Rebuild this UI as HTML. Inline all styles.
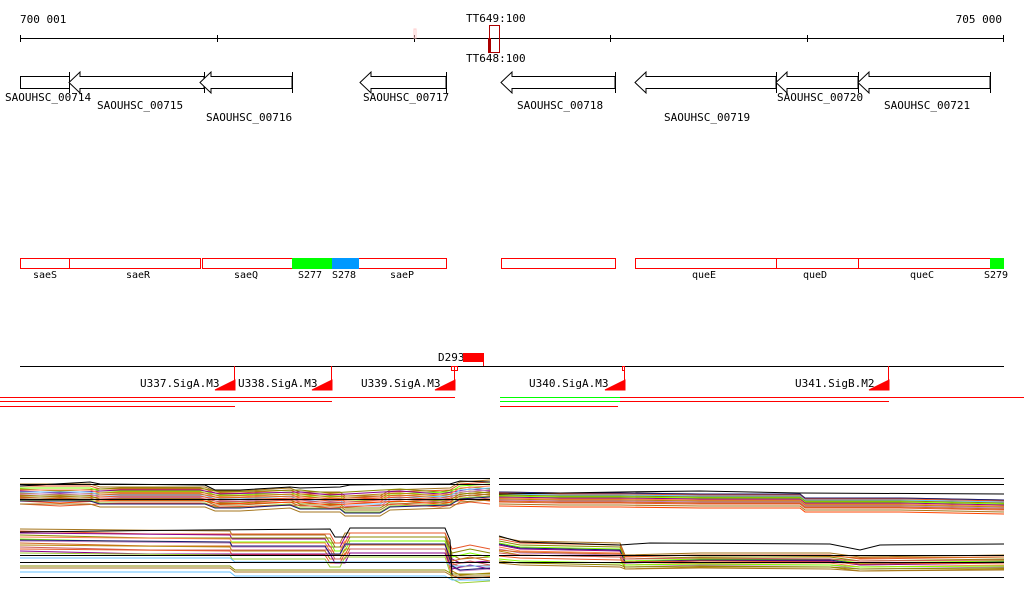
<!DOCTYPE html>
<html><head><meta charset="utf-8"><style>
html,body{margin:0;padding:0;background:#fff;}
svg{display:block;font-family:"DejaVu Sans Mono","Liberation Mono",monospace;font-size:11px;}
</style></head><body>
<svg width="1024" height="611" viewBox="0 0 1024 611" xmlns="http://www.w3.org/2000/svg">
<defs>
<path id="tl" d="M20,0 L90,0 L100,3 L205,3 L215,7 L240,7 L290,4 L300,8 L340,8 L345,12 L380,12 L390,6 L450,4 L460,-2 L490,-4" fill="none"/>
<path id="tl2" d="M20,2 L60,4 L120,1 L200,1 L220,5 L300,3 L330,6 L400,2 L440,5 L470,0 L490,2" fill="none"/>
<path id="bl" d="M20,0 L230,2 L232,6 L325,6 L330,14 L340,14 L345,4 L445,4 L452,26 L460,30 L490,28" fill="none"/>
<path id="bl2" d="M20,0 L150,3 L330,3 L335,12 L345,12 L350,2 L445,2 L452,18 L470,14 L490,18" fill="none"/>
<path id="bl3" d="M20,0 L230,0 L235,4 L400,4 L445,4 L452,8 L490,8" fill="none"/>
<path id="tr" d="M499,0 L560,1 L620,1 L700,2 L800,2 L805,6 L900,6 L1004,8" fill="none"/>
<path id="br" d="M499,0 L520,4 L620,6 L625,18 L700,16 L830,16 L860,20 L1004,18" fill="none"/>
<path id="br2" d="M499,0 L520,2 L620,4 L625,6 L700,5 L830,6 L860,8 L1004,7" fill="none"/>
</defs>
<rect width="1024" height="611" fill="#fff"/>
<g fill="#000">
<text x="20" y="23">700 001</text>
<text x="1002" y="23" text-anchor="end">705 000</text>
<text x="466" y="22">TT649:100</text>
<text x="466" y="62">TT648:100</text>
</g>
<line x1="20" y1="38.5" x2="1004" y2="38.5" stroke="#000"/>
<g stroke="#000"><line x1="20.5" y1="35" x2="20.5" y2="42"/><line x1="217.5" y1="35" x2="217.5" y2="42"/><line x1="414.5" y1="35" x2="414.5" y2="42"/><line x1="610.5" y1="35" x2="610.5" y2="42"/><line x1="807.5" y1="35" x2="807.5" y2="42"/><line x1="1003.5" y1="35" x2="1003.5" y2="42"/></g>
<rect x="414" y="29" width="2" height="9" fill="none" stroke="#fcc"/>
<rect x="489.5" y="25.5" width="10" height="27" fill="none" stroke="#a00"/>
<rect x="488" y="38" width="3" height="15" fill="#a00"/>
<g fill="#fff" stroke="#000">
<rect x="20.5" y="76.5" width="49" height="12"/>
<line x1="69.5" y1="72" x2="69.5" y2="93"/>
<polygon points="69,82.5 80,72 80,76.5 204,76.5 204,88.5 80,88.5 80,93"/><line x1="204.5" y1="72" x2="204.5" y2="93"/>
<polygon points="200,82.5 211,72 211,76.5 292,76.5 292,88.5 211,88.5 211,93"/><line x1="292.5" y1="72" x2="292.5" y2="93"/>
<polygon points="360,82.5 371,72 371,76.5 446,76.5 446,88.5 371,88.5 371,93"/><line x1="446.5" y1="72" x2="446.5" y2="93"/>
<polygon points="501,82.5 512,72 512,76.5 615,76.5 615,88.5 512,88.5 512,93"/><line x1="615.5" y1="72" x2="615.5" y2="93"/>
<polygon points="635,82.5 646,72 646,76.5 776,76.5 776,88.5 646,88.5 646,93"/><line x1="776.5" y1="72" x2="776.5" y2="93"/>
<polygon points="776,82.5 787,72 787,76.5 858,76.5 858,88.5 787,88.5 787,93"/><line x1="858.5" y1="72" x2="858.5" y2="93"/>
<polygon points="858,82.5 869,72 869,76.5 990,76.5 990,88.5 869,88.5 869,93"/><line x1="990.5" y1="72" x2="990.5" y2="93"/>
</g>
<g fill="#000">
<text x="5" y="101">SAOUHSC_00714</text>
<text x="97" y="109">SAOUHSC_00715</text>
<text x="206" y="121">SAOUHSC_00716</text>
<text x="363" y="101">SAOUHSC_00717</text>
<text x="517" y="109">SAOUHSC_00718</text>
<text x="664" y="121">SAOUHSC_00719</text>
<text x="777" y="101">SAOUHSC_00720</text>
<text x="884" y="109">SAOUHSC_00721</text>
</g>
<g stroke="#f00" fill="#fff">
<rect x="20.5" y="258.5" width="49" height="10"/>
<rect x="69.5" y="258.5" width="131" height="10"/>
<rect x="202.5" y="258.5" width="90" height="10"/>
<rect x="358.5" y="258.5" width="88" height="10"/>
<rect x="501.5" y="258.5" width="114" height="10"/>
<rect x="635.5" y="258.5" width="141" height="10"/>
<rect x="776.5" y="258.5" width="82" height="10"/>
<rect x="858.5" y="258.5" width="132" height="10"/>
</g>
<rect x="292" y="258" width="40" height="11" fill="#0f0"/>
<rect x="332" y="258" width="27" height="11" fill="#09f"/>
<rect x="990" y="258" width="14" height="11" fill="#0f0"/>
<g fill="#000" font-size="10">
<text x="33" y="278">saeS</text><text x="126" y="278">saeR</text><text x="234" y="278">saeQ</text>
<text x="298" y="278">S277</text><text x="332" y="278">S278</text><text x="390" y="278">saeP</text>
<text x="692" y="278">queE</text><text x="803" y="278">queD</text><text x="910" y="278">queC</text><text x="984" y="278">S279</text>
</g>
<text x="438" y="361" fill="#000">D293</text>
<rect x="463" y="353" width="20" height="9" fill="#f00"/>
<line x1="483.5" y1="353" x2="483.5" y2="366" stroke="#f00"/>
<line x1="20" y1="366.5" x2="1004" y2="366.5" stroke="#000"/>
<rect x="451.5" y="366.5" width="6" height="4" fill="none" stroke="#f00"/>
<rect x="622.5" y="366.5" width="2" height="4" fill="none" stroke="#f00"/>
<g fill="#000">
<text x="140" y="387">U337.SigA.M3</text><text x="238" y="387">U338.SigA.M3</text>
<text x="361" y="387">U339.SigA.M3</text><text x="529" y="387">U340.SigA.M3</text>
<text x="795" y="387">U341.SigB.M2</text>
</g>
<g fill="#f00" stroke="#f00">
<polygon points="215,390 235,380 235,390"/><line x1="234.5" y1="366" x2="234.5" y2="390"/>
<polygon points="312,390 332,380 332,390"/><line x1="331.5" y1="366" x2="331.5" y2="390"/>
<polygon points="435,390 455,380 455,390"/><line x1="454.5" y1="366" x2="454.5" y2="390"/>
<polygon points="605,390 625,380 625,390"/><line x1="624.5" y1="366" x2="624.5" y2="390"/>
<polygon points="869,390 889,380 889,390"/><line x1="888.5" y1="366" x2="888.5" y2="390"/>
</g>
<rect x="0" y="397" width="455" height="1" fill="#ff0000"/>
<rect x="0" y="401" width="332" height="1" fill="#ff0000"/>
<rect x="0" y="406" width="235" height="1" fill="#ff0000"/>
<rect x="620" y="397" width="404" height="1" fill="#ff0000"/>
<rect x="620" y="401" width="269" height="1" fill="#ff0000"/>
<rect x="500" y="406" width="118" height="1" fill="#ff0000"/>
<rect x="500" y="397" width="120" height="1" fill="#00ff00"/>
<rect x="500" y="401" width="120" height="1" fill="#00ff00"/>

<g fill="none">
<use href="#tl" transform="translate(0,484)" stroke="#a6761d"/>
<use href="#tl" transform="translate(0,486)" stroke="#e8572a"/>
<use href="#tl2" transform="translate(0,487)" stroke="#8b8b00"/>
<use href="#tl" transform="translate(0,488)" stroke="#7fff00"/>
<use href="#tl2" transform="translate(0,489)" stroke="#8b008b"/>
<use href="#tl" transform="translate(0,490)" stroke="#ff7f50"/>
<use href="#tl2" transform="translate(0,491)" stroke="#b8860b"/>
<use href="#tl" transform="translate(0,492)" stroke="#66c2ff"/>
<use href="#tl2" transform="translate(0,493)" stroke="#d2691e"/>
<use href="#tl" transform="translate(0,494)" stroke="#c080c0"/>
<use href="#tl2" transform="translate(0,495)" stroke="#e8572a"/>
<use href="#tl" transform="translate(0,496)" stroke="#8b8b00"/>
<use href="#tl2" transform="translate(0,497)" stroke="#cd5c5c"/>
<use href="#tl" transform="translate(0,498)" stroke="#a6761d"/>
<use href="#tl2" transform="translate(0,499)" stroke="#ff4500"/>
<use href="#tl" transform="translate(0,500)" stroke="#9acd32"/>
<use href="#tl2" transform="translate(0,502)" stroke="#e8572a"/>
<use href="#tl" transform="translate(0,504)" stroke="#a6761d"/>
<use href="#tl" transform="translate(0,501)" stroke="#191970"/>

<use href="#bl" transform="translate(0,529)" stroke="#a6761d"/>
<use href="#bl2" transform="translate(0,531)" stroke="#e8572a"/>
<use href="#bl" transform="translate(0,533)" stroke="#8b008b"/>
<use href="#bl2" transform="translate(0,535)" stroke="#8b8b00"/>
<use href="#bl" transform="translate(0,537)" stroke="#ff7f50"/>
<use href="#bl2" transform="translate(0,539)" stroke="#7fff00"/>
<use href="#bl" transform="translate(0,541)" stroke="#c080c0"/>
<use href="#bl2" transform="translate(0,543)" stroke="#d2691e"/>
<use href="#bl" transform="translate(0,545)" stroke="#b8860b"/>
<use href="#bl2" transform="translate(0,547)" stroke="#cd5c5c"/>
<use href="#bl" transform="translate(0,549)" stroke="#e8572a"/>
<use href="#bl2" transform="translate(0,551)" stroke="#8b008b"/>
<use href="#bl" transform="translate(0,553)" stroke="#9acd32"/>
<use href="#bl3" transform="translate(0,558)" stroke="#66c2ff"/>
<use href="#bl3" transform="translate(0,566)" stroke="#8b8b00"/>
<use href="#bl3" transform="translate(0,568)" stroke="#a6761d"/>
<use href="#bl" transform="translate(0,540)" stroke="#191970"/>
<use href="#bl3" transform="translate(0,572)" stroke="#66c2ff"/>

<use href="#tr" transform="translate(0,492)" stroke="#a6761d"/>
<use href="#tr" transform="translate(0,493)" stroke="#e8572a"/>
<use href="#tr" transform="translate(0,494)" stroke="#66c2ff"/>
<use href="#tr" transform="translate(0,495)" stroke="#8b8b00"/>
<use href="#tr" transform="translate(0,496)" stroke="#7fff00"/>
<use href="#tr" transform="translate(0,497)" stroke="#8b008b"/>
<use href="#tr" transform="translate(0,498)" stroke="#ff7f50"/>
<use href="#tr" transform="translate(0,499)" stroke="#b8860b"/>
<use href="#tr" transform="translate(0,500)" stroke="#c080c0"/>
<use href="#tr" transform="translate(0,501)" stroke="#d2691e"/>
<use href="#tr" transform="translate(0,502)" stroke="#e8572a"/>
<use href="#tr" transform="translate(0,504)" stroke="#a6761d"/>
<use href="#tr" transform="translate(0,506)" stroke="#ff4500"/>
<use href="#tr" transform="translate(0,492)" stroke="#191970"/>

<use href="#br" transform="translate(0,537)" stroke="#a6761d"/>
<use href="#br" transform="translate(0,539)" stroke="#e8572a"/>
<use href="#br" transform="translate(0,541)" stroke="#8b8b00"/>
<use href="#br" transform="translate(0,543)" stroke="#7fff00"/>
<use href="#br" transform="translate(0,545)" stroke="#8b008b"/>
<use href="#br" transform="translate(0,547)" stroke="#ff7f50"/>
<use href="#br" transform="translate(0,549)" stroke="#c080c0"/>
<use href="#br" transform="translate(0,551)" stroke="#b8860b"/>
<use href="#br" transform="translate(0,544)" stroke="#191970"/>
<use href="#br2" transform="translate(0,550)" stroke="#d2691e"/>
<use href="#br2" transform="translate(0,553)" stroke="#cd5c5c"/>
<use href="#br2" transform="translate(0,556)" stroke="#e8572a"/>
<use href="#br2" transform="translate(0,559)" stroke="#7fff00"/>
<use href="#br2" transform="translate(0,561)" stroke="#8b8b00"/>
<use href="#br2" transform="translate(0,563)" stroke="#a6761d"/>
</g>
<g fill="none" stroke="#000">
<polyline points="20,486 90,482 100,484 205,485 215,490 240,490 290,487 300,488 340,487 350,485 450,484 460,481 490,482"/>
<polyline points="20,532 200,530 330,529 335,537 345,537 350,528 445,528 450,540 452,575"/>
<polyline points="499,494 620,492 700,491 800,493 1004,494"/>
<polyline points="499,536 520,542 620,545 650,543 830,544 860,550 880,545 1004,544"/>
</g>
<g stroke="#000">
<line x1="20" y1="478.5" x2="490" y2="478.5"/><line x1="20" y1="484.5" x2="490" y2="484.5"/><line x1="20" y1="499.5" x2="490" y2="499.5"/>
<line x1="499" y1="478.5" x2="1004" y2="478.5"/><line x1="499" y1="484.5" x2="1004" y2="484.5"/>
<line x1="20" y1="555.5" x2="490" y2="555.5"/><line x1="20" y1="562.5" x2="490" y2="562.5"/><line x1="20" y1="577.5" x2="490" y2="577.5"/>
<line x1="499" y1="555.5" x2="1004" y2="555.5"/><line x1="499" y1="562.5" x2="1004" y2="562.5"/><line x1="499" y1="577.5" x2="1004" y2="577.5"/>
</g>
</svg>
</body></html>
